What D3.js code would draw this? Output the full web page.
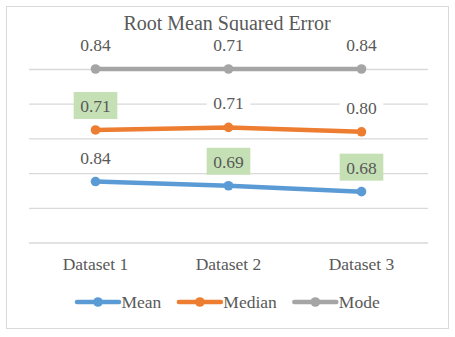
<!DOCTYPE html>
<html>
<head>
<meta charset="utf-8">
<script src="https://cdn.jsdelivr.net/npm/d3@7"></script>
<style>
  html, body { margin: 0; padding: 0; background: #fff; }
  svg { display: block; }
  text { font-family: "Liberation Serif", "Times New Roman", serif; fill: #595959; }
</style>
</head>
<body>
<svg id="chart" width="455" height="337"></svg>
<script>
// ---- data ----
const datasets = ["Dataset 1", "Dataset 2", "Dataset 3"];
const seriesNames = ["Mean", "Median", "Mode"];
const meanValues = [0.84, 0.69, 0.68];
const medianValues = [0.71, 0.71, 0.80];
const modeValues = [0.84, 0.71, 0.84];
const yTicks = [0, 0.2, 0.4, 0.6, 0.8, 1.0];
const titleText = "Root Mean Squared Error";
const colors = ["#5B9BD5", "#ED7D31", "#A5A5A5"];

const valuesBySeries = [meanValues, medianValues, modeValues];
const rows = datasets.map((d, i) => {
  const r = { dataset: d };
  seriesNames.forEach((s, j) => r[s] = valuesBySeries[j][i]);
  return r;
});

// 100% stacked line chart
const stacked = d3.stack().keys(seriesNames).offset(d3.stackOffsetExpand)(rows);

const svg = d3.select("#chart");
const W = 455, H = 337;
svg.append("rect").attr("width", W).attr("height", H).attr("fill", "#fff");
svg.append("rect").attr("x", 6.5).attr("y", 6.5).attr("width", 442).attr("height", 322)
  .attr("fill", "#fff").attr("stroke", "#D9D9D9").attr("stroke-width", 1);

const x = d3.scaleBand().domain(datasets).range([29, 428]);
const xc = d => x(d) + x.bandwidth() / 2;
const y = d3.scaleLinear().domain([0, 1]).range([242.5, 69]);

// gridlines via axis
const gAxis = svg.append("g").attr("transform", "translate(29,0)")
  .call(d3.axisLeft(y).tickValues(yTicks).tickSize(-(428 - 29)).tickFormat(""));
gAxis.select(".domain").remove();
gAxis.selectAll(".tick line").attr("stroke", "#D9D9D9").attr("stroke-width", 1.3);

// category axis labels
const gx = svg.append("g").attr("transform", "translate(0,242.5)")
  .call(d3.axisBottom(x).tickSize(0).tickPadding(0));
gx.select(".domain").remove();
gx.selectAll(".tick text").attr("y", 27).attr("dy", 0)
  .style("font-size", "17.5px").style("fill", "#595959")
  .style("font-family", '"Liberation Serif", "Times New Roman", serif');

// title
svg.append("text").attr("x", 227).attr("y", 30).attr("text-anchor", "middle")
  .style("font-size", "20px").text(titleText);

// lines + markers
const line = d3.line().x(d => xc(d.data.dataset)).y(d => y(d[1]));
stacked.forEach((s, j) => {
  svg.append("path").datum(s).attr("d", line).attr("fill", "none")
    .attr("stroke", colors[j]).attr("stroke-width", 4.5)
    .attr("stroke-linejoin", "round").attr("stroke-linecap", "round");
  svg.selectAll(null).data(s).enter().append("circle")
    .attr("cx", d => xc(d.data.dataset)).attr("cy", d => y(d[1])).attr("r", 4.8)
    .attr("fill", colors[j]);
});

// data labels (raw values), minimum per dataset highlighted in green
const minByDataset = datasets.map((d, i) => d3.min(valuesBySeries, v => v[i]));
stacked.forEach((s, j) => {
  s.forEach((d, i) => {
    const v = valuesBySeries[j][i];
    const cx = xc(d.data.dataset);
    const baseline = y(d[1]) - 18;
    const g = svg.append("g");
    const rect = g.append("rect");
    const t = g.append("text").attr("x", cx).attr("y", baseline)
      .attr("text-anchor", "middle").style("font-size", "17.5px").text(v.toFixed(2));
    const bw = t.node().getComputedTextLength() + 13;
    rect.attr("x", cx - bw / 2).attr("y", baseline - 20).attr("width", bw).attr("height", 27)
      .attr("fill", v === minByDataset[i] ? "#C5E0B4" : "#fff");
  });
});

// legend
const legend = svg.append("g");
let lx = 77;
seriesNames.forEach((name, j) => {
  legend.append("line").attr("x1", lx).attr("x2", lx + 42).attr("y1", 302).attr("y2", 302)
    .attr("stroke", colors[j]).attr("stroke-width", 4.5).attr("stroke-linecap", "round");
  legend.append("circle").attr("cx", lx + 21).attr("cy", 302).attr("r", 4.8).attr("fill", colors[j]);
  const t = legend.append("text").attr("x", lx + 44.5).attr("y", 308)
    .style("font-size", "17.5px").text(name);
  lx += 44.5 + t.node().getComputedTextLength() + 17.5;
});
</script>
</body>
</html>
